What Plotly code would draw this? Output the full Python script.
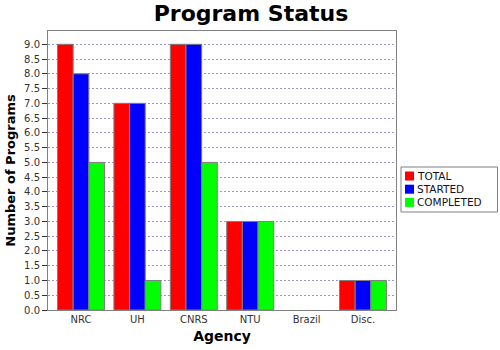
import plotly.graph_objects as go

categories = ["NRC", "UH", "CNRS", "NTU", "Brazil", "Disc."]
total = [9, 7, 9, 3, 0, 1]
started = [8, 7, 9, 3, 0, 1]
completed = [5, 1, 5, 3, 0, 1]
series_names = ["TOTAL", "STARTED", "COMPLETED"]
y_ticks = [i * 0.5 for i in range(19)]
y_labels = [f"{v:.1f}" for v in y_ticks]

colors = ["#ff0000", "#0000ff", "#00ff00"]
W, H = 500, 350
L, R, T, B = 48, 104, 31, 40
PW, PH = W - L - R, H - T - B

def px(x):
    return (x - L) / PW

def py(y):
    return (H - B - y) / PH

fig = go.Figure()
for name, vals, c in zip(series_names, [total, started, completed], colors):
    fig.add_trace(go.Bar(x=categories, y=vals, name=name, showlegend=False,
                         marker=dict(color=c, line=dict(color="#808080",
                                                        width=[1 if v else 0 for v in vals]))))

font = "DejaVu Sans"
shapes = [dict(type="rect", xref="paper", yref="paper", x0=px(401), x1=px(497.5), y0=py(167), y1=py(212),
               line=dict(color="#808080", width=1), fillcolor="white", layer="above")]
annotations = []
for i, (name, c) in enumerate(zip(series_names, colors)):
    yc = 176 + i * 13.2
    shapes.append(dict(type="rect", xref="paper", yref="paper", x0=px(405), x1=px(414),
                       y0=py(yc - 4.5), y1=py(yc + 4.5), line=dict(width=0), fillcolor=c, layer="above"))
    annotations.append(dict(text=name, xref="paper", yref="paper", x=px(416), y=py(yc), xanchor="left",
                            yanchor="middle", showarrow=False, borderpad=0,
                            font=dict(family=font, size=10.5, color="#111122")))

fig.update_layout(
    width=W, height=H,
    margin=dict(l=L, r=R, t=T, b=B, autoexpand=False),
    paper_bgcolor="white", plot_bgcolor="white",
    barmode="group", bargap=0.167, bargroupgap=0,
    title=dict(text="<b>Program Status</b>", x=0.502, xanchor="center", y=0.962, yanchor="middle",
               font=dict(family=font, size=22, color="black")),
    font=dict(family=font, size=10, color="#333333"),
    showlegend=False,
    shapes=shapes, annotations=annotations,
)
fig.update_xaxes(
    range=[-0.585, 5.585], showgrid=False, showline=True, linecolor="#808080", linewidth=1, mirror=True,
    ticks="", tickfont=dict(family=font, size=10, color="#333333"),
    title=dict(text="<b>Agency</b>", font=dict(family=font, size=14, color="black"), standoff=7),
)
fig.update_yaxes(
    range=[0, 9.45], tickvals=y_ticks, ticktext=y_labels,
    showgrid=True, gridcolor="#9999cc", griddash="2px,2px", gridwidth=1,
    showline=True, linecolor="#808080", linewidth=1, mirror=True,
    ticks="outside", ticklen=5, tickcolor="#333333",
    tickfont=dict(family=font, size=10, color="#333333"), zeroline=False,
    title=dict(text="<b>Number of Programs</b>", font=dict(family=font, size=13, color="black"), standoff=5),
)
fig.write_html("out.html")
